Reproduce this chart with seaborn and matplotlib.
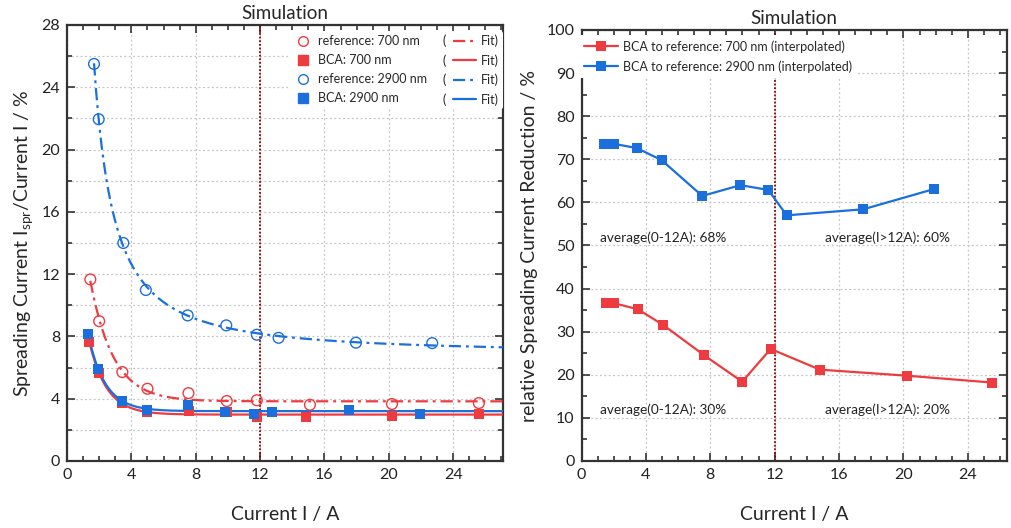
import numpy as np
import pandas as pd
import matplotlib
matplotlib.use("Agg")
import matplotlib.pyplot as plt
import seaborn as sns
from matplotlib.ticker import MultipleLocator
from matplotlib.lines import Line2D
from matplotlib.legend_handler import HandlerLine2D
from matplotlib.text import Text

# ---------------- data ----------------
ref700_x = [1.45, 2.0, 3.44, 5.0, 7.55, 9.93, 11.8, 15.1, 20.2, 25.6]
ref700_y = [11.66, 8.98, 5.71, 4.64, 4.36, 3.85, 3.9, 3.61, 3.66, 3.72]
bca700_x = [1.39, 1.97, 3.44, 5.0, 7.6, 9.94, 11.8, 14.85, 20.2, 25.6]
bca700_y = [7.66, 5.67, 3.7, 3.13, 3.23, 3.13, 2.82, 2.82, 2.89, 3.02]
ref2900_x = [1.68, 1.97, 3.5, 4.9, 7.5, 9.9, 11.8, 13.15, 17.96, 22.7]
ref2900_y = [25.5, 21.95, 14.0, 10.98, 9.35, 8.71, 8.11, 7.91, 7.6, 7.57]
bca2900_x = [1.31, 1.95, 3.42, 4.98, 7.5, 9.85, 11.65, 12.76, 17.55, 21.95]
bca2900_y = [8.15, 5.9, 3.85, 3.29, 3.61, 3.16, 3.04, 3.16, 3.29, 3.04]

red700_x = [1.5, 2.04, 3.5, 5.06, 7.63, 9.98, 11.75, 14.8, 20.2, 25.5]
red700_y = [36.7, 36.6, 35.2, 31.6, 24.5, 18.4, 26.0, 21.2, 19.8, 18.2]
red2900_x = [1.375, 2.0, 3.44, 4.98, 7.5, 9.875, 11.6, 12.75, 17.5, 21.9]
red2900_y = [73.6, 73.6, 72.6, 69.8, 61.5, 64.0, 62.9, 57.0, 58.4, 63.1]

RED = "#EE3B3F"
BLUE = "#1B6FDD"
VLINE = "#8B0000"

# ---------------- fits (least squares from the data) ----------------
def fit_exp(x, y):
    x = np.asarray(x); y = np.asarray(y)
    best = None
    for t in np.linspace(0.2, 10, 2000):
        A = np.column_stack([np.ones_like(x), np.exp(-x / t)])
        c, *_ = np.linalg.lstsq(A, y, rcond=None)
        r = np.sum((A @ c - y) ** 2)
        if best is None or r < best[0]:
            best = (r, t, c)
    _, t, c = best
    return lambda xx: c[0] + c[1] * np.exp(-xx / t)

def fit_pow(x, y):
    x = np.asarray(x); y = np.asarray(y)
    best = None
    for p in np.linspace(0.3, 4, 2000):
        A = np.column_stack([np.ones_like(x), x ** (-p)])
        c, *_ = np.linalg.lstsq(A, y, rcond=None)
        r = np.sum((A @ c - y) ** 2)
        if best is None or r < best[0]:
            best = (r, p, c)
    _, p, c = best
    return lambda xx: c[0] + c[1] * xx ** (-p)

XMAX_L = 27.1
XMAX_R = 26.4

# ---------------- style ----------------
sns.set_theme(style="white")
plt.rcParams["font.family"] = ["Lato", "DejaVu Sans"]
plt.rcParams["axes.edgecolor"] = "#333333"
plt.rcParams["axes.linewidth"] = 1.6
plt.rcParams["xtick.direction"] = "in"
plt.rcParams["ytick.direction"] = "in"

fig = plt.figure(figsize=(10.11, 5.28), dpi=100)
axL = fig.add_axes([67 / 1011, 1 - 461 / 528, 436 / 1011, 436 / 528])
axR = fig.add_axes([581.5 / 1011, 1 - 461 / 528, 425 / 1011, 431 / 528])

def style_axes(ax, xmaj, xmin, ymaj, ymin, ygrid_minor):
    ax.xaxis.set_major_locator(MultipleLocator(xmaj))
    ax.xaxis.set_minor_locator(MultipleLocator(xmin))
    ax.yaxis.set_major_locator(MultipleLocator(ymaj))
    ax.yaxis.set_minor_locator(MultipleLocator(ymin))
    ax.tick_params(which="both", direction="in", top=True, right=True,
                   bottom=True, left=True, color="#333333", width=1.2)
    ax.tick_params(which="major", length=6, labelsize=11.5, pad=5, labelcolor="#222222")
    ax.tick_params(which="minor", length=3.5)
    gkw = dict(color="#c4c4c4", linestyle=(0, (1.5, 2)), linewidth=0.9)
    ax.grid(True, which="major", axis="x", **gkw)
    ax.grid(True, which="major", axis="y", **gkw)
    if ygrid_minor:
        ax.grid(True, which="minor", axis="y", **gkw)
    ax.set_axisbelow(True)
    for s in ax.spines.values():
        s.set_visible(True)
        s.set_color("#333333")
        s.set_linewidth(1.6)

# ---------------- left panel ----------------
style_axes(axL, 4, 1, 4, 2, True)
axL.set_xlim(0, XMAX_L)
axL.set_ylim(0, 28)

f_r700 = fit_exp(ref700_x, ref700_y)
f_b700 = fit_exp(bca700_x, bca700_y)
f_r2900 = fit_pow(ref2900_x, ref2900_y)
f_b2900 = fit_exp(bca2900_x, bca2900_y)

dashdot = (0, (5.5, 2.2, 1.3, 2.2))
for xs, f, col, ls in [
    (ref700_x, f_r700, RED, dashdot),
    (bca700_x, f_b700, RED, "-"),
    (ref2900_x, f_r2900, BLUE, dashdot),
    (bca2900_x, f_b2900, BLUE, "-"),
]:
    xx = np.linspace(min(xs), XMAX_L, 400)
    sns.lineplot(x=xx, y=f(xx), ax=axL, color=col, linewidth=1.6,
                 zorder=3, estimator=None, sort=False)
    axL.lines[-1].set_linestyle(ls)

sns.scatterplot(x=bca700_x, y=bca700_y, ax=axL, marker="s", s=55, color=RED,
                edgecolor=RED, linewidth=0, zorder=4)
sns.scatterplot(x=bca2900_x, y=bca2900_y, ax=axL, marker="s", s=55, color=BLUE,
                edgecolor=BLUE, linewidth=0, zorder=4)
sns.scatterplot(x=ref700_x, y=ref700_y, ax=axL, marker="o", s=60, facecolor="none",
                edgecolor=RED, linewidth=1.0, zorder=5)
sns.scatterplot(x=ref2900_x, y=ref2900_y, ax=axL, marker="o", s=60, facecolor="none",
                edgecolor=BLUE, linewidth=1.0, zorder=5)

axL.axvline(12, color=VLINE, linestyle=(0, (1, 1)), linewidth=1.3, zorder=2)
axL.set_title("Simulation", fontsize=13.5, pad=4)
axL.set_xlabel("Current I / A", fontsize=14, labelpad=17)
axL.set_ylabel("Spreading Current I$_\\mathregular{spr}$/Current I / %", fontsize=14, labelpad=4)


class ParenHandler(HandlerLine2D):
    """Draws '(' followed by the fit line, reaching into the column gap."""
    def create_artists(self, legend, orig_handle, xdescent, ydescent, width,
                       height, fontsize, trans):
        arts = super().create_artists(legend, orig_handle, xdescent, ydescent,
                                      width, height, fontsize, trans)
        x0 = -xdescent
        for a in arts:
            if isinstance(a, Line2D):
                a.set_xdata([x0 - 0.35 * fontsize, x0 + width])
                a.set_ydata([height / 2 - ydescent] * 2)
        t = Text(x0 - 1.15 * fontsize, height / 2 - ydescent, "(", fontsize=fontsize,
                 va="center", ha="left", color="#222222", transform=trans)
        arts.append(t)
        return arts


mk = dict(linestyle="none")
h1 = [
    Line2D([], [], marker="o", markerfacecolor="none", markeredgecolor=RED, markersize=7, **mk),
    Line2D([], [], marker="s", color=RED, markersize=6.5, **mk),
    Line2D([], [], marker="o", markerfacecolor="none", markeredgecolor=BLUE, markersize=7, **mk),
    Line2D([], [], marker="s", color=BLUE, markersize=6.5, **mk),
]
l1 = ["reference: 700 nm", "BCA: 700 nm", "reference: 2900 nm", "BCA: 2900 nm"]
h2 = [
    Line2D([], [], color=RED, linestyle=dashdot, linewidth=1.6),
    Line2D([], [], color=RED, linestyle="-", linewidth=1.6),
    Line2D([], [], color=BLUE, linestyle=dashdot, linewidth=1.6),
    Line2D([], [], color=BLUE, linestyle="-", linewidth=1.6),
]
l2 = ["Fit)"] * 4
leg = axL.legend(h1 + h2, l1 + l2, ncol=2, loc="upper right",
                 bbox_to_anchor=(1.0, 0.986), fontsize=9.0,
                 handler_map={h: ParenHandler() for h in h2},
                 frameon=True, facecolor="white", edgecolor="none", framealpha=1,
                 borderaxespad=0.0, borderpad=0.3, handlelength=1.5,
                 handletextpad=0.45, columnspacing=2.4, labelspacing=0.55)
leg.set_zorder(6)

# ---------------- right panel ----------------
style_axes(axR, 4, 1, 10, 5, False)
axR.set_xlim(0, XMAX_R)
axR.set_ylim(0, 100)

sns.lineplot(x=red700_x, y=red700_y, ax=axR, color=RED, marker="s", markersize=7.5,
             markeredgewidth=0, linewidth=1.6, estimator=None, sort=False,
             label="BCA to reference: 700 nm (interpolated)", zorder=4)
sns.lineplot(x=red2900_x, y=red2900_y, ax=axR, color=BLUE, marker="s", markersize=7.5,
             markeredgewidth=0, linewidth=1.6, estimator=None, sort=False,
             label="BCA to reference: 2900 nm (interpolated)", zorder=4)
axR.axvline(12, color=VLINE, linestyle=(0, (1, 1)), linewidth=1.3, zorder=2)

tkw = dict(fontsize=9.8, color="#222222", va="center", ha="left")
axR.text(1.15, 51.8, "average(0-12A): 68%", **tkw)
axR.text(15.1, 51.8, "average(I>12A): 60%", **tkw)
axR.text(1.15, 11.8, "average(0-12A): 30%", **tkw)
axR.text(15.1, 11.8, "average(I>12A): 20%", **tkw)

axR.set_title("Simulation", fontsize=13.5, pad=4)
axR.set_xlabel("Current I / A", fontsize=14, labelpad=17)
axR.set_ylabel("relative Spreading Current Reduction / %", fontsize=14, labelpad=6)
legR = axR.legend(loc="upper left", bbox_to_anchor=(-0.006, 0.988), fontsize=9.0,
                  frameon=True, facecolor="white",
                  edgecolor="none", framealpha=1, borderaxespad=0.0, borderpad=0.4,
                  handlelength=2.7, handletextpad=0.45, labelspacing=0.6)
legR.set_zorder(6)

fig.savefig("out.png", dpi=100)
